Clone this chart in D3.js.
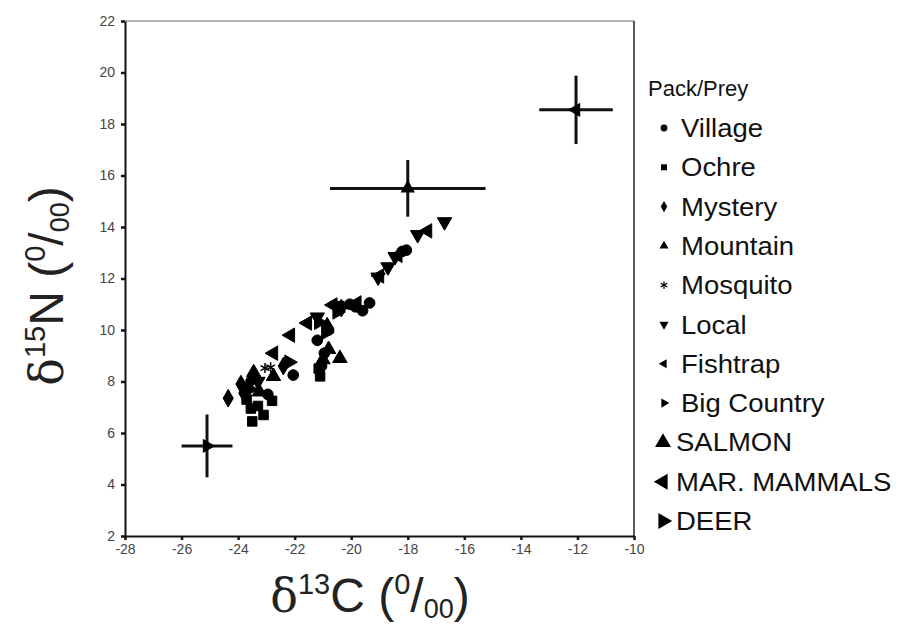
<!DOCTYPE html>
<html>
<head>
<meta charset="utf-8">
<script src="https://cdn.jsdelivr.net/npm/d3@7"></script>
<style>
  body { margin: 0; background: #fff; }
  text { font-family: "Liberation Sans", Arial, sans-serif; }
</style>
</head>
<body>
<script>
// pack samples, [d13C, d15N]
const village = [[-18.2, 13.05], [-18.05, 13.1], [-19.35, 11.05], [-19.6, 10.75], [-19.85, 10.9], [-20.05, 11.0],
  [-21.2, 9.6], [-20.8, 10.0], [-22.05, 8.25], [-22.95, 7.5], [-20.95, 9.1], [-21.05, 8.6]];
const ochre = [[-21.1, 8.2], [-21.15, 8.5], [-23.55, 6.95], [-23.3, 7.05], [-23.1, 6.7], [-23.5, 6.45], [-22.8, 7.25], [-23.7, 7.3]];
const mystery = [[-24.35, 7.35], [-23.8, 7.55], [-23.65, 7.8], [-23.55, 8.05], [-20.85, 10.15], [-20.35, 10.85], [-22.4, 8.6], [-23.9, 7.9]];
const mountain = [[-20.4, 8.9], [-22.75, 8.2], [-21.0, 8.85], [-23.45, 8.35], [-20.8, 9.25], [-23.25, 7.6]];
const mosquito = [[-23.05, 8.52], [-22.85, 8.55]];
const local = [[-16.7, 14.2], [-17.65, 13.7], [-18.7, 12.45], [-19.05, 12.05], [-21.2, 10.5], [-20.5, 10.95], [-18.45, 12.85], [-23.3, 8.0]];
const fishtrap = [[-17.3, 13.85], [-18.35, 12.9], [-20.65, 10.97], [-21.55, 10.27], [-22.15, 9.8], [-22.75, 9.1], [-19.8, 11.05], [-19.0, 12.1]];
const bigCountry = [[-22.2, 8.75], [-20.9, 9.9], [-23.6, 7.7], [-21.15, 10.3], [-20.5, 10.7]];

// prey means with spread
const preyNames = ["SALMON", "MAR. MAMMALS", "DEER"];
const preyX = [-18.0, -12.05, -25.1];
const preyY = [15.5, 18.55, 5.5];
const preyXErr = [2.75, 1.3, 0.9];
const preyYErr = [1.1, 1.33, 1.22];

const packNames = ["Village", "Ochre", "Mystery", "Mountain", "Mosquito", "Local", "Fishtrap", "Big Country"];
const packData = [village, ochre, mystery, mountain, mosquito, local, fishtrap, bigCountry];

const xTicks = [-28, -26, -24, -22, -20, -18, -16, -14, -12, -10];
const yTicks = [2, 4, 6, 8, 10, 12, 14, 16, 18, 20, 22];

const width = 905, height = 634;
const plotLeft = 125, plotRight = 634, plotTop = 21, plotBottom = 536;

// symbol + rotation for each series
const packShapes = [
  [d3.symbolCircle, 0], [d3.symbolSquare, 0], [d3.symbolDiamond, 0], [d3.symbolTriangle, 0],
  [d3.symbolAsterisk, 0], [d3.symbolTriangle, 180], [d3.symbolTriangle, -90], [d3.symbolTriangle, 90]
];
const preyShapes = [[d3.symbolTriangle, 0], [d3.symbolTriangle, -90], [d3.symbolTriangle, 90]];

const svg = d3.select("body").append("svg")
  .attr("width", width)
  .attr("height", height);

svg.append("rect").attr("width", width).attr("height", height).attr("fill", "#fff");

const x = d3.scaleLinear().domain([-28, -10]).range([plotLeft, plotRight]);
const y = d3.scaleLinear().domain([2, 22]).range([plotBottom, plotTop]);

// frame
svg.append("line").attr("x1", plotLeft).attr("x2", plotRight).attr("y1", plotTop).attr("y2", plotTop)
  .attr("stroke", "#666").attr("stroke-width", 1);
svg.append("line").attr("x1", plotRight).attr("x2", plotRight).attr("y1", plotTop).attr("y2", plotBottom)
  .attr("stroke", "#222").attr("stroke-width", 1.5);

const xAxis = svg.append("g")
  .attr("transform", `translate(0,${plotBottom})`)
  .call(d3.axisBottom(x).tickValues(xTicks).tickSize(4).tickSizeOuter(0));
const yAxis = svg.append("g")
  .attr("transform", `translate(${plotLeft},0)`)
  .call(d3.axisLeft(y).tickValues(yTicks).tickSize(4).tickSizeOuter(0));

[xAxis, yAxis].forEach(g => {
  g.select(".domain").attr("stroke", "#111").attr("stroke-width", 2);
  g.selectAll(".tick line").attr("stroke", "#111").attr("stroke-width", 2.5);
  g.selectAll(".tick text")
    .attr("font-family", "'Liberation Sans', Arial, sans-serif")
    .attr("font-size", 14)
    .attr("fill", "#444");
});
xAxis.selectAll(".tick text").attr("dy", "0.8em").text(d => String(d));
yAxis.selectAll(".tick text").attr("x", -10).text(d => String(d));

const symbolPath = (shape, size) => d3.symbol().type(shape).size(size)();

// pack points
packData.forEach((pts, i) => {
  const [shape, rot] = packShapes[i];
  const isStroke = shape === d3.symbolAsterisk;
  svg.append("g").selectAll("path")
    .data(pts)
    .enter()
    .append("path")
    .attr("d", symbolPath(shape, isStroke ? 70 : 90))
    .attr("transform", d => `translate(${x(d[0])},${y(d[1])}) rotate(${rot})`)
    .attr("fill", isStroke ? "none" : "#000")
    .attr("stroke", "#000")
    .attr("stroke-width", isStroke ? 1.5 : 1);
});

// prey means with error bars
const prey = preyNames.map((name, i) => ({
  name, cx: preyX[i], cy: preyY[i], ex: preyXErr[i], ey: preyYErr[i], shape: preyShapes[i]
}));
const preyG = svg.append("g").selectAll("g").data(prey).enter().append("g");
preyG.append("line")
  .attr("x1", d => x(d.cx - d.ex)).attr("x2", d => x(d.cx + d.ex))
  .attr("y1", d => y(d.cy)).attr("y2", d => y(d.cy))
  .attr("stroke", "#111").attr("stroke-width", 3);
preyG.append("line")
  .attr("x1", d => x(d.cx)).attr("x2", d => x(d.cx))
  .attr("y1", d => y(d.cy - d.ey)).attr("y2", d => y(d.cy + d.ey))
  .attr("stroke", "#111").attr("stroke-width", 3);
preyG.append("path")
  .attr("d", d => symbolPath(d.shape[0], 90))
  .attr("transform", d => `translate(${x(d.cx)},${y(d.cy)}) rotate(${d.shape[1]})`)
  .attr("fill", "#000");

// legend
const legend = svg.append("g").attr("transform", "translate(648,0)");
legend.append("text").attr("x", 0).attr("y", 96).attr("font-size", 22).attr("fill", "#111").text("Pack/Prey");
const legendItems = packNames.map((n, i) => ({ name: n, shape: packShapes[i], big: false }))
  .concat(preyNames.map((n, i) => ({ name: n, shape: preyShapes[i], big: true })));
const item = legend.selectAll("g.item").data(legendItems).enter().append("g")
  .attr("class", "item")
  .attr("transform", (d, i) => `translate(0,${128 + i * 39.3})`);
item.append("path")
  .attr("d", d => symbolPath(d.shape[0], d.big ? 110 : (d.shape[0] === d3.symbolAsterisk ? 40 : 36)))
  .attr("transform", d => `translate(${d.big ? 15 : 16},0) rotate(${d.shape[1]})`)
  .attr("fill", d => d.shape[0] === d3.symbolAsterisk ? "none" : "#000")
  .attr("stroke", d => d.shape[0] === d3.symbolAsterisk ? "#000" : "none")
  .attr("stroke-width", 1.2);
item.append("text")
  .attr("transform", d => `translate(${d.big ? 28 : 33},9) scale(1.1,1)`)
  .attr("font-size", 25)
  .attr("fill", "#111")
  .text(d => d.name);

// axis titles
const xt = svg.append("text").attr("x", 370).attr("y", 612).attr("text-anchor", "middle")
  .attr("font-size", 48).attr("fill", "#222");
xt.append("tspan").attr("font-family", "'DejaVu Serif', serif").attr("font-size", 46).text("δ");
xt.append("tspan").attr("font-size", 29).attr("dy", -18).text("13");
xt.append("tspan").attr("dy", 18).text("C (");
xt.append("tspan").attr("font-size", 29).attr("dy", -18).text("0");
xt.append("tspan").attr("dy", 18).text("/");
xt.append("tspan").attr("font-size", 27).attr("dy", 6).text("00");
xt.append("tspan").attr("dy", -6).text(")");

const yt = svg.append("text").attr("transform", "translate(63,286) rotate(-90)").attr("text-anchor", "middle")
  .attr("font-size", 48).attr("fill", "#222");
yt.append("tspan").attr("font-family", "'DejaVu Serif', serif").attr("font-size", 46).text("δ");
yt.append("tspan").attr("font-size", 29).attr("dy", -18).text("15");
yt.append("tspan").attr("dy", 18).text("N (");
yt.append("tspan").attr("font-size", 29).attr("dy", -18).text("0");
yt.append("tspan").attr("dy", 18).text("/");
yt.append("tspan").attr("font-size", 27).attr("dy", 6).text("00");
yt.append("tspan").attr("dy", -6).text(")");
</script>
</body>
</html>
